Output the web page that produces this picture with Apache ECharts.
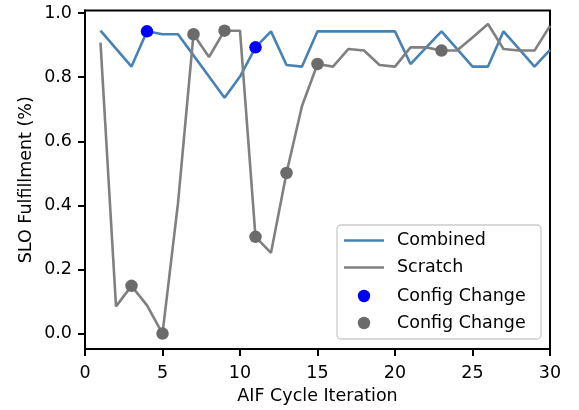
<!DOCTYPE html>
<html>
<head>
<meta charset="utf-8">
<script src="https://cdn.jsdelivr.net/npm/echarts@6/dist/echarts.min.js"></script>
<style>
  html, body { margin: 0; padding: 0; background: #fff; }
  #chart { width: 579px; height: 410px; }
</style>
</head>
<body>
<div id="chart"></div>
<script>
// AIF cycle iterations 1..30
const iterations = [1,2,3,4,5,6,7,8,9,10,11,12,13,14,15,16,17,18,19,20,21,22,23,24,25,26,27,28,29,30];

// SLO fulfillment per iteration
const combined = [0.945,0.889,0.833,0.943,0.934,0.934,0.868,0.802,0.736,0.802,
                  0.893,0.943,0.838,0.833,0.943,0.943,0.943,0.943,0.943,0.943,
                  0.841,0.892,0.943,0.888,0.833,0.833,0.943,0.888,0.833,0.885];
const scratch  = [0.908,0.085,0.149,0.088,0.000,0.407,0.934,0.863,0.945,0.945,
                  0.302,0.252,0.501,0.710,0.841,0.833,0.888,0.883,0.838,0.833,
                  0.893,0.893,0.883,0.883,0.924,0.966,0.888,0.883,0.883,0.960];

// Iterations where the configuration was changed
const combinedChanges = [4, 11];
const scratchChanges  = [3, 5, 7, 9, 11, 13, 15, 23];

// Axis ranges and tick steps
const xRange = [0, 30], xStep = 5;
const yTickRange = [0, 1], yStep = 0.2;
const yDataRange = [-0.048, 1.008];

const FONT = 'DejaVu Sans';
const BLUE = '#4682b4';
const GRAY = '#808080';
const DOT_BLUE = '#0000ff';
const DOT_GRAY = '#6b6b6b';

const pairs = (ys) => iterations.map((x, i) => [x, ys[i]]);
const pick = (ys, xs) => xs.map(x => [x, ys[iterations.indexOf(x)]]);

const chart = echarts.init(document.getElementById('chart'), null, { renderer: 'canvas' });

const tickStyle = { show: true, length: 7, inside: false, lineStyle: { color: '#000', width: 2 } };
const labelStyle = { fontFamily: FONT, fontSize: 17.5, color: '#000' };

// Plot frame: 0..30 horizontally, -0.048..1.008 vertically
const G = { left: 85, right: 29, top: 10.5, bottom: 61 };
const H = 410 - G.top - G.bottom;
const pxPerUnit = H / (yDataRange[1] - yDataRange[0]);
// Secondary grid whose 0..1 span lines up with the data axis, carrying the y ticks
const tickGrid = {
  left: G.left, right: G.right,
  top: G.top + (yDataRange[1] - yTickRange[1]) * pxPerUnit,
  bottom: G.bottom + (yTickRange[0] - yDataRange[0]) * pxPerUnit
};

// Legend rows drawn as graphics so both "Config Change" entries appear
const LX = 337, LY = 225;
const legendRows = [
  { y: 240.5, text: 'Combined', kind: 'line', color: BLUE },
  { y: 267.5, text: 'Scratch', kind: 'line', color: GRAY },
  { y: 296, text: 'Config Change', kind: 'dot', color: DOT_BLUE },
  { y: 323, text: 'Config Change', kind: 'dot', color: DOT_GRAY }
];
const legendGraphics = [{
  type: 'rect', z: 100,
  shape: { x: LX, y: LY, width: 204, height: 114, r: 4 },
  style: { fill: 'rgba(255,255,255,0.8)', stroke: '#cccccc', lineWidth: 1.3 }
}];
legendRows.forEach(r => {
  if (r.kind === 'line') {
    legendGraphics.push({ type: 'line', z: 101,
      shape: { x1: 344, y1: r.y, x2: 384, y2: r.y },
      style: { stroke: r.color, lineWidth: 2.6 } });
  } else {
    legendGraphics.push({ type: 'circle', z: 101,
      shape: { cx: 364, cy: r.y, r: 6.2 },
      style: { fill: r.color } });
  }
  legendGraphics.push({ type: 'text', z: 101, x: 397, y: r.y,
    style: { text: r.text, fontFamily: FONT, fontSize: 17.5, fill: '#000',
             textVerticalAlign: 'middle', textAlign: 'left' } });
});

chart.setOption({
  animation: false,
  backgroundColor: '#fff',
  grid: [
    Object.assign({ show: true, borderColor: '#000', borderWidth: 2, containLabel: false }, G),
    Object.assign({ show: false, containLabel: false }, tickGrid)
  ],
  xAxis: [
    {
      gridIndex: 0, type: 'value', min: xRange[0], max: xRange[1], interval: xStep,
      name: 'AIF Cycle Iteration', nameLocation: 'middle', nameGap: 38,
      nameTextStyle: labelStyle,
      splitLine: { show: false },
      axisLine: { show: true, onZero: false, lineStyle: { color: '#000', width: 2 } },
      axisTick: tickStyle,
      axisLabel: Object.assign({ margin: 15 }, labelStyle)
    },
    {
      gridIndex: 1, type: 'value', min: xRange[0], max: xRange[1], show: false
    }
  ],
  yAxis: [
    {
      gridIndex: 0, type: 'value', min: yDataRange[0], max: yDataRange[1],
      name: 'SLO Fulfillment (%)', nameLocation: 'middle', nameGap: 50, nameRotate: 90,
      nameTextStyle: labelStyle,
      splitLine: { show: false },
      axisLine: { show: true, onZero: false, lineStyle: { color: '#000', width: 2 } },
      axisTick: { show: false },
      axisLabel: { show: false }
    },
    {
      gridIndex: 1, type: 'value', min: yTickRange[0], max: yTickRange[1], interval: yStep,
      splitLine: { show: false },
      axisLine: { show: false, onZero: false },
      axisTick: tickStyle,
      axisLabel: Object.assign({ margin: 13, formatter: v => v.toFixed(1) }, labelStyle)
    }
  ],
  series: [
    { name: 'Combined', type: 'line', data: pairs(combined), showSymbol: false,
      lineStyle: { color: BLUE, width: 2.6 }, z: 2 },
    { name: 'Scratch', type: 'line', data: pairs(scratch), showSymbol: false,
      lineStyle: { color: GRAY, width: 2.6 }, z: 3 },
    { name: 'Config Change', type: 'scatter', data: pick(combined, combinedChanges),
      symbolSize: 12.5, itemStyle: { color: DOT_BLUE, opacity: 1 }, z: 4 },
    { name: 'Config Change (Scratch)', type: 'scatter', data: pick(scratch, scratchChanges),
      symbolSize: 12.5, itemStyle: { color: DOT_GRAY, opacity: 1 }, z: 5 }
  ],
  graphic: legendGraphics
});
</script>
</body>
</html>
